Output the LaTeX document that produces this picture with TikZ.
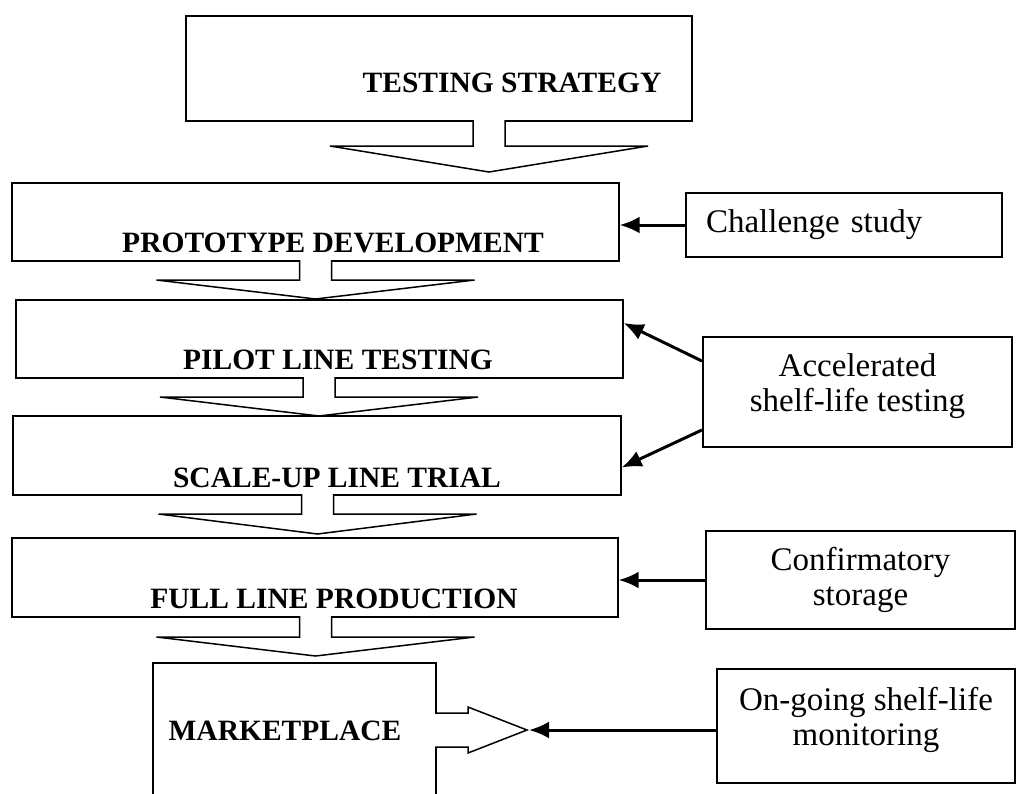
\documentclass[tikz,border=0pt]{standalone}
\usepackage{fontspec}
\setmainfont{Liberation Serif}
\usetikzlibrary{arrows.meta}

\tikzset{
  mainbox/.style={draw, line width=1.4pt, inner sep=0pt},
  sidebox/.style={draw, line width=2.2pt, inner sep=0pt, align=center, font=\fontsize{33}{35}\selectfont},
  steplabel/.style={anchor=base, inner sep=0pt, font=\fontsize{29.5}{34}\selectfont\bfseries},
  blockarrow/.style={line width=1.5pt, line join=miter, fill=white},
  feed/.style={draw, line width=3pt, -{Latex[length=20pt,width=17pt]}}
}

% wide hollow arrow: centre x, stem top, wing line, tip
\newcommand{\downblock}[4]{%
  \filldraw[blockarrow] (#1-16,#2-1) -- (#1-16,#3) -- (#1-159,#3) -- (#1,#4)
    -- (#1+159,#3) -- (#1+16,#3) -- (#1+16,#2-1);}

\begin{document}
\begin{tikzpicture}[x=1pt,y=-1pt]
\useasboundingbox (0,0) rectangle (1017,793);

\node[mainbox, minimum width=506pt, minimum height=105pt] (strat) at (439,68.5) {};
\node[mainbox, minimum width=607pt, minimum height=78pt] (proto) at (315.5,222) {};
\node[mainbox, minimum width=607pt, minimum height=78pt] (pilot) at (319.5,339) {};
\node[mainbox, minimum width=608pt, minimum height=79pt] (scale) at (317,455.5) {};
\node[mainbox, minimum width=606pt, minimum height=79pt] (full) at (315,577.5) {};
\node[mainbox, minimum width=283pt, minimum height=170pt] (market) at (294.5,748) {};

\node[steplabel] (stratlbl) at (512,92) {TESTING STRATEGY};
\node[steplabel] (protolbl) at (333,252) {PROTOTYPE DEVELOPMENT};
\node[steplabel] (pilotlbl) at (338,369) {PILOT LINE TESTING};
\node[steplabel] (scalelbl) at (337,487) {SCALE-UP LINE TRIAL};
\node[steplabel] (fulllbl) at (334,608) {FULL LINE PRODUCTION};
\node[steplabel] (marketlbl) at (285,740) {MARKETPLACE};

\downblock{489}{121}{146}{172}
\downblock{315.5}{261}{280}{299}
\downblock{319}{378}{397}{416}
\downblock{317.5}{495}{514}{534}
\downblock{315.5}{617}{637}{656}
\filldraw[blockarrow] (435,713) -- (468,713) -- (468,707) -- (527,730)
  -- (468,753) -- (468,747) -- (435,747);

\node[sidebox, align=left, text width=276pt, inner xsep=20pt, minimum height=64pt] (chal) at (844,225) {Challenge study};
\node[sidebox, minimum width=309pt, minimum height=110pt, text depth=19pt] (accel) at (857.5,392) {Accelerated\\shelf-life testing};
\node[sidebox, minimum width=309pt, minimum height=98pt] (conf) at (860.5,580) {Confirmatory\\storage};
\node[sidebox, minimum width=298pt, minimum height=114pt, text depth=19pt] (ongo) at (866,726) {On-going shelf-life\\monitoring};

\coordinate (mtip) at (529,730);

\draw[feed] (chal.west) -- (chal.west -| proto.east);
\draw[feed] ([yshift=31pt]accel.west) -- ([yshift=16pt]pilot.east);
\draw[feed] ([yshift=-38pt]accel.west) -- ([yshift=-12pt]scale.east);
\draw[feed] (conf.west) -- (conf.west -| full.east);
\draw[feed] (ongo.west |- mtip) -- (mtip);
\end{tikzpicture}
\end{document}
